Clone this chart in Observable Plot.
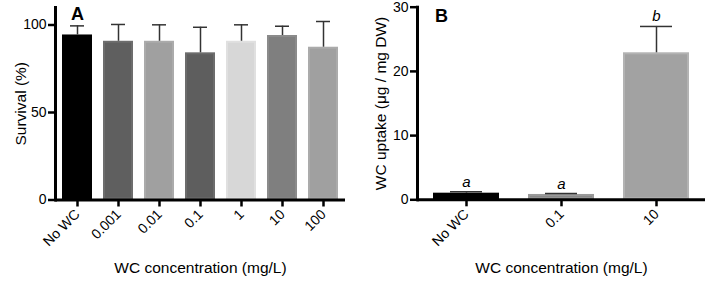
<!DOCTYPE html>
<html>
<head>
<meta charset="utf-8">
<script src="https://cdn.jsdelivr.net/npm/d3@7"></script>
<script src="https://cdn.jsdelivr.net/npm/@observablehq/plot@0.6"></script>
<style>
  html, body { margin: 0; padding: 0; background: #fff; }
  #wrap { display: flex; flex-direction: row; width: 709px; height: 281px; }
  svg { display: block; }
</style>
</head>
<body>
<div id="wrap"></div>
<script>
// ---- Panel A data ----
const survivalCats = ["No WC", "0.001", "0.01", "0.1", "1", "10", "100"];
const survivalMean = [94.3, 90.7, 90.7, 84.1, 90.7, 94.0, 87.3];
const survivalSD   = [5.2, 9.6, 9.4, 14.6, 9.4, 5.3, 14.7];
const survivalTicks = [0, 50, 100];

// ---- Panel B data ----
const uptakeCats = ["No WC", "0.1", "10"];
const uptakeMean = [1.03, 0.83, 22.9];
const uptakeSD   = [0.22, 0.15, 4.1];
const uptakeLetters = ["a", "a", "b"];
const uptakeTicks = [0, 10, 20, 30];

// ---- styles (kept apart from data) ----
const fillA   = ["#000000", "#5f5f5f", "#a0a0a0", "#5e5e5e", "#d7d7d7", "#7f7f7f", "#a0a0a0"];
const strokeA = ["#000000", "#6d6d6d", "#ababab", "#6c6c6c", "#e0e0e0", "#8b8b8b", "#ababab"];
const fillB   = ["#000000", "#8a8a8a", "#a2a2a2"];
const strokeB = ["#000000", "#9a9a9a", "#b3b3b3"];

const font = "'Liberation Sans', Arial, Helvetica, sans-serif";
const tableA = survivalCats.map((c, i) => ({cat: c, mean: survivalMean[i], sd: survivalSD[i], fill: fillA[i], stroke: strokeA[i]}));
const tableB = uptakeCats.map((c, i) => ({cat: c, mean: uptakeMean[i], sd: uptakeSD[i], letter: uptakeLetters[i], fill: fillB[i], stroke: strokeB[i]}));

function panel({table, cats, ticks, yDomain, width, margins, padIn, padOut, cap, title, ylabel, ylabelDx, letter, letterDx, letterDy}) {
  const marks = [
    Plot.barY(table, {x: "cat", y: "mean", fill: "fill", stroke: "stroke", strokeWidth: 2, inset: 1}),
    Plot.ruleX(table, {x: "cat", y1: "mean", y2: d => d.mean + d.sd, stroke: "#333", strokeWidth: 1.5}),
    Plot.tickY(table, {x: "cat", y: d => d.mean + d.sd, stroke: "#333", strokeWidth: 1.5, insetLeft: cap, insetRight: cap}),
    Plot.axisY({ticks, tickSize: 7, tickPadding: 2, strokeWidth: 2.5, fontSize: 14, label: null, tickFormat: d => String(d)}),
    Plot.axisX({tickSize: 7, tickPadding: 5, tickRotate: -45, strokeWidth: 2.5, fontSize: 14, label: null}),
    Plot.ruleY([0], {stroke: "black", strokeWidth: 3}),
    Plot.frame({anchor: "left", stroke: "black", strokeWidth: 3}),
    Plot.text([ylabel], {frameAnchor: "left", rotate: -90, textAnchor: "middle", lineAnchor: "bottom", dx: ylabelDx, fontSize: 15.5, text: d => d}),
    Plot.text([title], {frameAnchor: "bottom", textAnchor: "middle", lineAnchor: "bottom", dy: 73, fontSize: 15.5, text: d => d}),
    Plot.text([letter], {frameAnchor: "top-left", lineAnchor: "top", textAnchor: "middle", dx: letterDx, dy: letterDy, fontSize: 18, fontWeight: "bold", text: d => d})
  ];
  if (table[0].letter !== undefined) {
    marks.push(Plot.text(table, {x: "cat", y: d => d.mean + d.sd, text: "letter", dy: -5, lineAnchor: "bottom", fontStyle: "italic", fontSize: 15}));
  }
  return Plot.plot({
    width, height: 281,
    marginLeft: margins[0], marginRight: margins[1], marginTop: margins[2], marginBottom: margins[3],
    style: {fontFamily: font, color: "black", background: "white", overflow: "visible"},
    x: {type: "band", domain: cats, paddingInner: padIn, paddingOuter: padOut},
    y: {domain: yDomain},
    marks
  });
}

const wrap = document.getElementById("wrap");
wrap.appendChild(panel({
  table: tableA, cats: survivalCats, ticks: survivalTicks, yDomain: [0, 110],
  width: 360, margins: [55, 15, 7, 81.5], padIn: 0.275, padOut: 0.16, cap: 8,
  title: "WC concentration (mg/L)", ylabel: "Survival (%)", ylabelDx: -30, letter: "A", letterDx: 22, letterDy: 0
}));
wrap.appendChild(panel({
  table: tableB, cats: uptakeCats, ticks: uptakeTicks, yDomain: [0, 30],
  width: 349, margins: [57, 4, 6.7, 81.7], padIn: 0.31, padOut: 0.16, cap: 17,
  title: "WC concentration (mg/L)", ylabel: "WC uptake (μg / mg DW)", ylabelDx: -32, letter: "B", letterDx: 24, letterDy: 2
}));
</script>
</body>
</html>
